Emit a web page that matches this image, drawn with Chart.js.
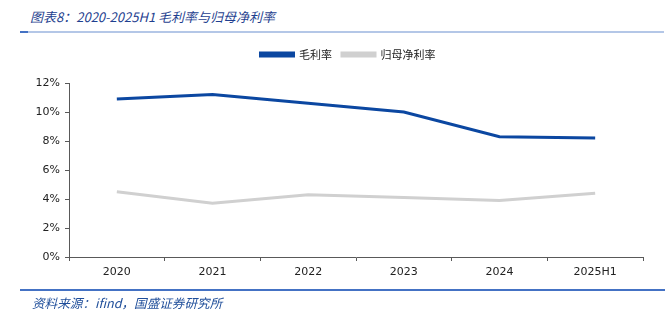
<!DOCTYPE html>
<html>
<head>
<meta charset="utf-8">
<script src="https://cdn.jsdelivr.net/npm/chart.js@4"></script>
<style>
    html, body { margin: 0; padding: 0; background: #fff; }
    #wrap { position: relative; width: 672px; height: 323px; overflow: hidden; }
    #chart { position: absolute; left: 0; top: 0; }
    .title {
        position: absolute; left: 30px; top: 7px;
        font: italic 13px "Noto Sans CJK SC", sans-serif; color: #1f3f8f;
    }
    .rule-top { position: absolute; left: 20px; top: 31px; width: 644px; height: 2px; background: #b4c7e7; }
    .rule-top-mark { position: absolute; left: 20px; top: 31px; width: 8px; height: 2px; background: #4472c4; }
    .rule-bottom { position: absolute; left: 20px; top: 289px; width: 645px; height: 2px; background: #4472c4; }
    .source {
        position: absolute; left: 32px; top: 293px;
        font: italic 12.6px "Noto Sans CJK SC", sans-serif; color: #1f4e9a;
    }
</style>
</head>
<body>
<div id="wrap">
    <div class="title">图表8：2020-2025H1 毛利率与归母净利率</div>
    <div class="rule-top"></div>
    <div class="rule-top-mark"></div>
    <canvas id="chart" width="672" height="323"></canvas>
    <div class="rule-bottom"></div>
    <div class="source">资料来源：ifind，国盛证券研究所</div>
</div>
<script>
// --- 데이터 ---
const years = ['2020', '2021', '2022', '2023', '2024', '2025H1'];
const grossMargin = [10.9, 11.2, 10.6, 10.0, 8.3, 8.2];   // 毛利率
const netMargin = [4.5, 3.7, 4.3, 4.1, 3.9, 4.4];         // 归母净利率
const yTicks = [0, 2, 4, 6, 8, 10, 12];

const axisColor = '#595959';

// 범례 위치 살짝 조정
const legendNudge = {
    id: 'legendNudge',
    afterLayout(chart) {
        const lg = chart.legend;
        lg.top -= 13; lg.bottom -= 13;
        lg.left -= 8; lg.right -= 8;
    }
};

new Chart(document.getElementById('chart').getContext('2d'), {
    type: 'line',
    data: {
        labels: years,
        datasets: [
            {
                label: '毛利率',
                data: grossMargin,
                borderColor: '#0b47a1',
                backgroundColor: '#0b47a1',
                borderWidth: 3,
                pointRadius: 0,
                tension: 0
            },
            {
                label: '归母净利率',
                data: netMargin,
                borderColor: '#d0d0d0',
                backgroundColor: '#d0d0d0',
                borderWidth: 3,
                pointRadius: 0,
                tension: 0
            }
        ]
    },
    options: {
        responsive: false,
        animation: false,
        layout: { padding: { left: 0, right: 29, top: 52, bottom: 36 } },
        scales: {
            x: {
                offset: true,
                grid: { display: true, offset: true, drawOnChartArea: false, tickLength: 4, color: axisColor },
                border: { color: axisColor },
                ticks: { padding: 5, color: '#222', font: { family: 'DejaVu Sans', size: 11 }, maxRotation: 0 },
                afterFit: (s) => { s.height = 30; }
            },
            y: {
                min: 0,
                max: 12,
                afterBuildTicks: (s) => { s.ticks = yTicks.map(v => ({ value: v })); },
                grid: { display: true, drawOnChartArea: false, tickLength: 4, color: axisColor },
                border: { color: axisColor },
                ticks: {
                    padding: 5,
                    color: '#222',
                    font: { family: 'DejaVu Sans', size: 11 },
                    callback: (v) => v + '%'
                },
                afterFit: (s) => { s.width = 69; }
            }
        },
        plugins: {
            legend: {
                position: 'top',
                fullSize: false,
                labels: {
                    boxWidth: 33,
                    boxHeight: 3,
                    padding: 10,
                    color: '#222',
                    font: { family: '"Noto Sans CJK SC"', size: 11 }
                }
            },
            tooltip: { enabled: false }
        }
    },
    plugins: [legendNudge]
});
</script>
</body>
</html>
